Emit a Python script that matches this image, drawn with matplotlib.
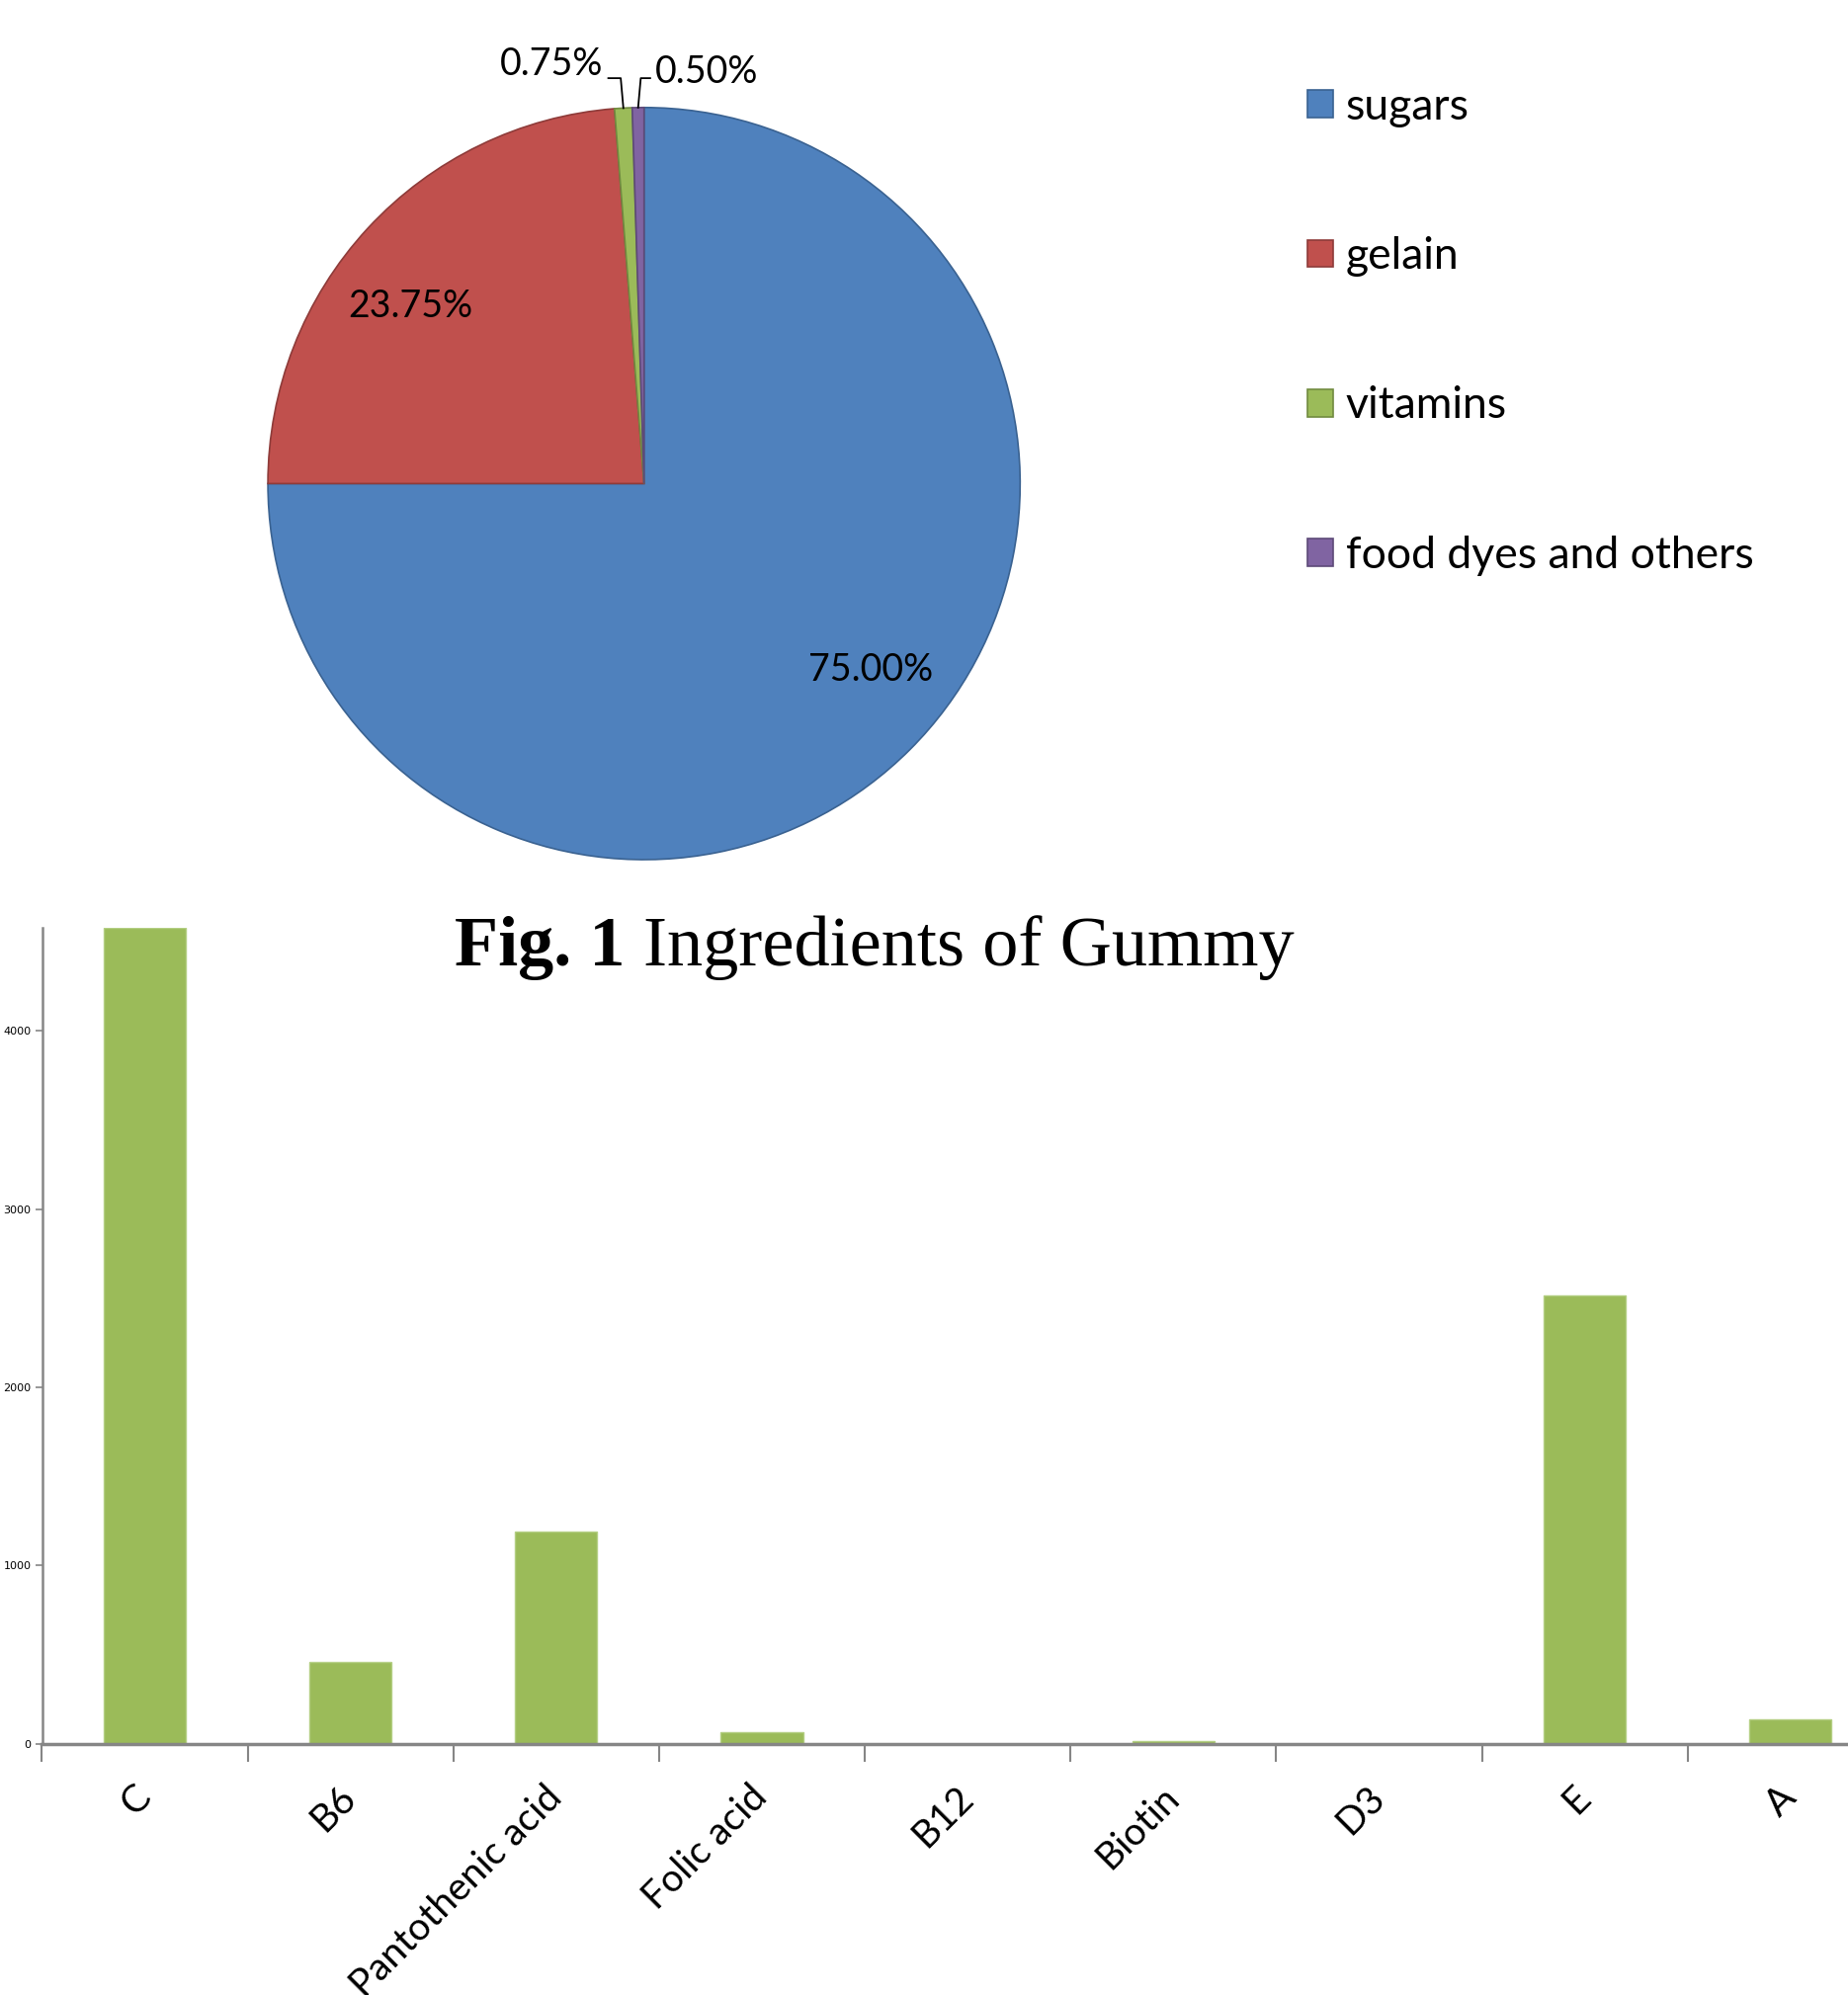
import numpy as np
import matplotlib
matplotlib.use("Agg")
import matplotlib.pyplot as plt

# Состав мармелада (круговая диаграмма)
parts = ["sugars", "gelain", "vitamins", "food dyes and others"]
shares = [75.00, 23.75, 0.75, 0.50]
pie_colors = ["#4F81BD", "#C0504D", "#9BBB59", "#8064A2"]
pie_edges = ["#3A6291", "#8E3B39", "#718B40", "#5E4A78"]

# Витамины (столбчатая диаграмма)
vitamins = ["C", "B6", "Pantothenic acid", "Folic acid", "B12",
            "Biotin", "D3", "E", "A"]
amounts = [4580, 460, 1190, 62, 0, 12, 0, 2517, 138]

fig = plt.figure(figsize=(18.7, 20.19), dpi=100)
W, H = 1870, 2019

# --- круговая диаграмма ---
cx, cy, r = 651.7, 489.4, 380.6
ax1 = fig.add_axes([(cx - r) / W, (H - cy - r) / H, 2 * r / W, 2 * r / H])

wedges, texts = ax1.pie(shares, colors=pie_colors, startangle=90,
                        counterclock=False)
for w, ec in zip(wedges, pie_edges):
    w.set_edgecolor(ec)
    w.set_linewidth(1.2)

# подписи больших секторов внутри, чуть повернуты против часовой
for w, p in zip(wedges, shares):
    if p < 5:
        continue
    mid = np.deg2rad((w.theta1 + w.theta2) / 2 + 5.5)
    ax1.text(0.78 * np.cos(mid), 0.78 * np.sin(mid), "%.2f%%" % p,
             fontsize=27, family="Lato", ha="center", va="center")

# подписи маленьких секторов с выносками
small = [(2, -0.247, 1.115, -1), (3, 0.166, 1.095, 1)]
for i, tx, ty, side in small:
    w = wedges[i]
    mid = np.deg2rad((w.theta1 + w.theta2) / 2)
    ex, ey = np.cos(mid), np.sin(mid)
    knee_y = 1.078
    if side < 0:
        xs = [ex, ex - 0.007, ex - 0.04]
    else:
        xs = [ex, ex + 0.007, ex + 0.032]
    ax1.plot(xs, [ey, knee_y, knee_y], color="black", lw=1.3, clip_on=False)
    ax1.text(tx, ty, "%.2f%%" % shares[i], fontsize=27, family="Lato",
             ha="center", va="center")

ax1.set_xlim(-1, 1)
ax1.set_ylim(-1, 1)
ax1.set_aspect("equal")

fig.legend(wedges, parts, loc="upper left", bbox_to_anchor=(1323 / W, 1 - 88 / H),
           frameon=False, prop=dict(family="Lato", size=32),
           handlelength=0.58, handleheight=0.58, handletextpad=0.29,
           labelspacing=2.48, borderpad=0, borderaxespad=0)

# --- столбчатая диаграмма ---
ax2 = fig.add_axes([42.5 / W, 254.5 / H, 1 - 42.5 / W, 0.409])
x = np.arange(len(vitamins))
ax2.bar(x, amounts, width=0.4, color="#9BBB59", edgecolor="#B4CF84",
        linewidth=1, zorder=2)
ax2.set_xlim(-0.5, 8.28)
ax2.set_ylim(0, 4580)

for s in ["top", "right"]:
    ax2.spines[s].set_visible(False)
ax2.spines["left"].set_color("#868686")
ax2.spines["left"].set_linewidth(1.8)
ax2.spines["bottom"].set_color("#868686")
ax2.spines["bottom"].set_linewidth(2.5)
ax2.spines["bottom"].set_zorder(3)

ax2.set_yticks([0, 1000, 2000, 3000, 4000])
ax2.tick_params(axis="y", length=5, width=1.2, color="#868686",
                labelsize=8, pad=3)

ax2.set_xticks(np.arange(-0.5, 8.5, 1))
ax2.set_xticklabels([])
ax2.tick_params(axis="x", which="major", length=13, width=1.5,
                color="#868686", direction="out")
ax2.set_xticks(x, minor=True)
ax2.set_xticklabels(vitamins, minor=True, rotation=45, ha="right",
                    va="center", rotation_mode="anchor",
                    fontsize=28, family="Lato")
ax2.tick_params(axis="x", which="minor", length=0, pad=35)

# подпись рисунка: "Fig. 1" жирным, остальное обычным
ty = 1 - 976.7 / H
fs = 52
t1 = fig.text(460 / W, ty, "Fig. 1", family="Liberation Serif",
              fontsize=fs, weight="bold", ha="left", va="baseline")
bb = t1.get_window_extent(fig.canvas.get_renderer())
fig.text((bb.x1 + 0.25 * fs * 100 / 72) / W, ty, "Ingredients of Gummy",
         family="Liberation Serif", fontsize=fs, ha="left", va="baseline")

fig.savefig("out.png", dpi=100, facecolor="white")
